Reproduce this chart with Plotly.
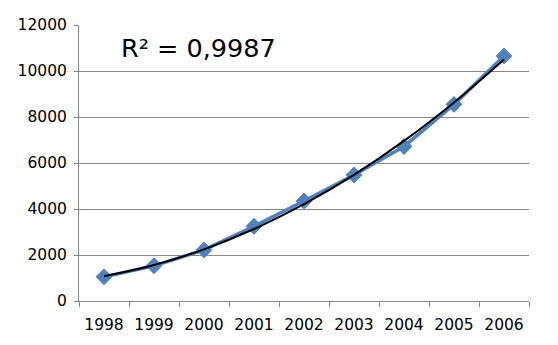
import numpy as np
import plotly.graph_objects as go

years = ["1998", "1999", "2000", "2001", "2002", "2003", "2004", "2005", "2006"]
values = [1050, 1530, 2220, 3250, 4350, 5480, 6720, 8550, 10650]
r2_label = "R² = 0,9987"

# order-2 polynomial trendline, as Excel computes it
xi = np.arange(len(years))
coef = np.polyfit(xi, values, 2)
trend = np.polyval(coef, xi)

fig = go.Figure()
fig.add_trace(go.Scatter(
    x=years, y=values, mode="lines+markers",
    line=dict(color="#4F81BD", width=3.5),
    marker=dict(symbol="diamond", size=13, color="#4F81BD"),
    showlegend=False,
))
fig.add_trace(go.Scatter(
    x=years, y=trend, mode="lines",
    line=dict(color="black", width=2, shape="spline"),
    showlegend=False,
))

fig.add_annotation(
    text=r2_label, xref="paper", yref="paper", x=0.088, y=0.915,
    xanchor="left", yanchor="middle", showarrow=False,
    font=dict(family="DejaVu Sans", size=25.5, color="black"),
)

axis_color = "#868686"
fig.update_layout(
    width=558, height=345,
    margin=dict(l=79, r=29, t=25, b=44),
    paper_bgcolor="white", plot_bgcolor="white",
    font=dict(family="DejaVu Sans", size=15.5, color="black"),
    xaxis=dict(
        type="category", range=[-0.5, 8.5], tickson="boundaries",
        ticks="outside", ticklen=5, tickcolor=axis_color,
        showline=True, linecolor=axis_color, linewidth=1,
        showgrid=False, zeroline=False, ticklabelstandoff=9,
    ),
    yaxis=dict(
        range=[0, 12000], tickvals=[0, 2000, 4000, 6000, 8000, 10000, 12000],
        ticks="outside", ticklen=4, tickcolor=axis_color,
        showline=True, linecolor=axis_color, linewidth=1,
        showgrid=True, gridcolor=axis_color, gridwidth=1,
        zeroline=False, tickformat="d", ticklabelstandoff=4,
    ),
)

fig.write_html("out.html")
